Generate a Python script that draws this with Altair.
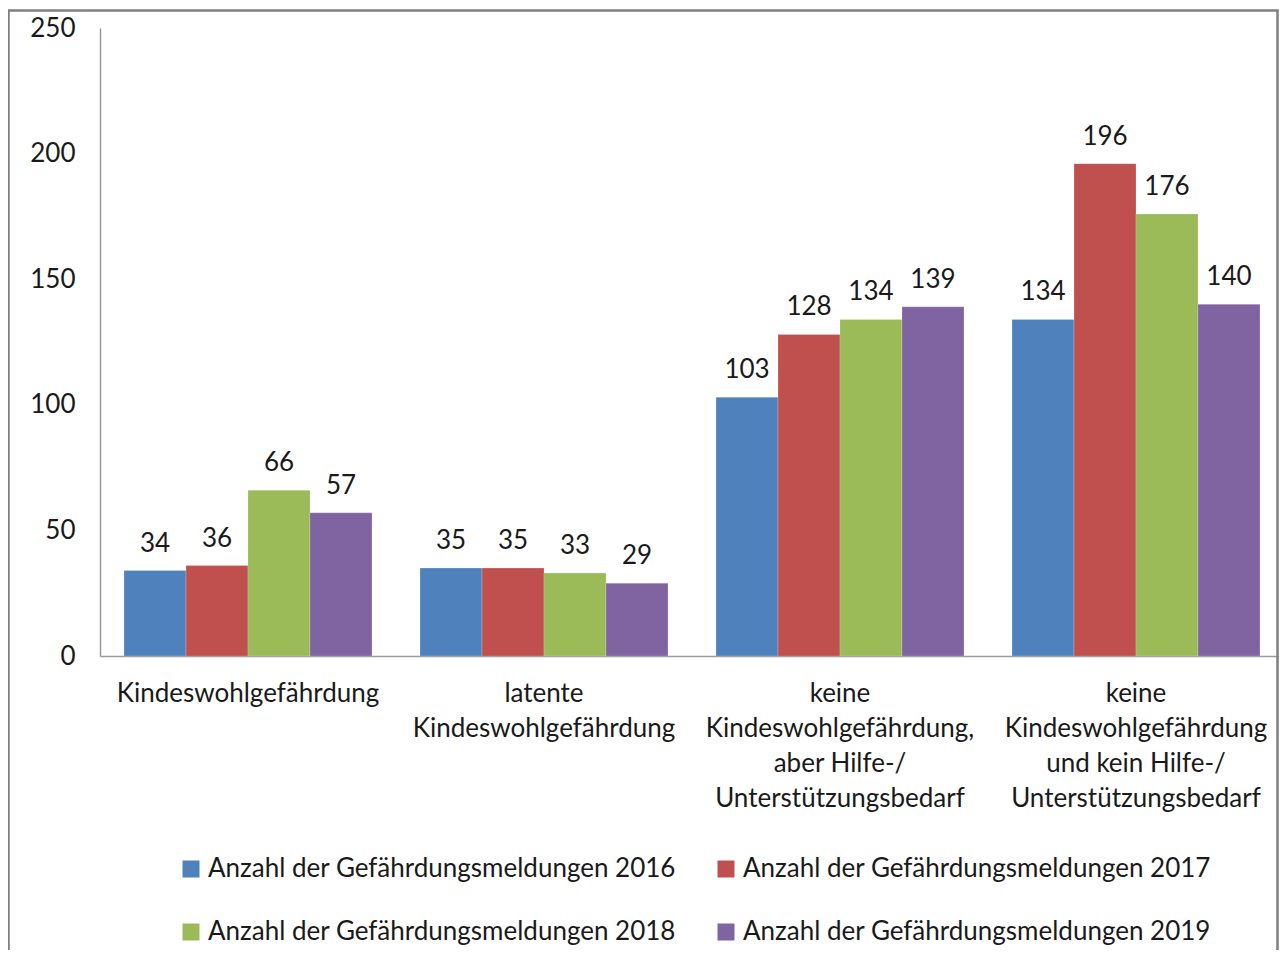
import altair as alt
import pandas as pd

categories = [
    "Kindeswohlgefährdung",
    "latente\nKindeswohlgefährdung",
    "keine\nKindeswohlgefährdung,\naber Hilfe-/\nUnterstützungsbedarf",
    "keine\nKindeswohlgefährdung\nund kein Hilfe-/\nUnterstützungsbedarf",
]
series = [
    "Anzahl der Gefährdungsmeldungen 2016",
    "Anzahl der Gefährdungsmeldungen 2017",
    "Anzahl der Gefährdungsmeldungen 2018",
    "Anzahl der Gefährdungsmeldungen 2019",
]
values_2016 = [34, 35, 103, 134]
values_2017 = [36, 35, 128, 196]
values_2018 = [66, 33, 134, 176]
values_2019 = [57, 29, 139, 140]
colors = ["#4F81BD", "#C0504D", "#9BBB59", "#8064A2"]
y_ticks = [0, 50, 100, 150, 200, 250]

rows = []
for s, vals in zip(series, [values_2016, values_2017, values_2018, values_2019]):
    for c, v in zip(categories, vals):
        rows.append({"cat": c, "series": s, "value": v})
df = pd.DataFrame(rows)

FONT = "Lato"
FS = 26
TXT = "#1a1a1a"

x_enc = alt.X(
    "cat:N",
    sort=categories,
    title="",
    scale=alt.Scale(paddingInner=0.1622, paddingOuter=0.0811),
    axis=alt.Axis(
        labelAngle=0,
        labelExpr="split(datum.label, '\\n')",
        labelLineHeight=35,
        labelFontSize=FS,
        labelColor=TXT,
        labelLimit=0,
        labelPadding=24.5,
        labelBaseline="top",
        ticks=False,
        domainColor="#9a9a9a",
        domainWidth=1.5,
        grid=False,
    ),
)
xo_enc = alt.XOffset("series:N", sort=series, scale=alt.Scale(paddingInner=0, paddingOuter=0))
y_enc = alt.Y(
    "value:Q",
    title="",
    scale=alt.Scale(domain=[0, 250], nice=False),
    axis=alt.Axis(
        values=y_ticks,
        labelFontSize=FS,
        labelColor=TXT,
        labelPadding=25,
        ticks=False,
        grid=False,
        domainColor="#9a9a9a",
        domainWidth=1.5,
    ),
)

bars = alt.Chart(df).mark_bar(stroke="white", strokeWidth=0.5, strokeOpacity=0.4).encode(
    x=x_enc,
    xOffset=xo_enc,
    y=y_enc,
    color=alt.Color(
        "series:N",
        sort=series,
        scale=alt.Scale(domain=series, range=colors),
        legend=alt.Legend(
            title="",
            orient="none",
            legendX=78,
            legendY=828,
            direction="horizontal",
            columns=2,
            columnPadding=37,
            rowPadding=37,
            symbolType="square",
            symbolSize=289,
            symbolStrokeWidth=0,
            symbolOffset=0,
            labelOffset=4,
            labelFontSize=FS,
            labelColor=TXT,
            labelLimit=0,
            padding=0,
        ),
    ),
)

labels = alt.Chart(df).mark_text(
    baseline="alphabetic", dy=-19, fontSize=FS, color=TXT, font=FONT
).encode(
    x=alt.X("cat:N", sort=categories),
    xOffset=alt.XOffset("series:N", sort=series),
    y=alt.Y("value:Q"),
    text=alt.Text("value:Q"),
)

frame = alt.Chart(pd.DataFrame({"a": [0]})).mark_rect(
    fillOpacity=0, stroke="#7f7f7f", strokeWidth=2.5
).encode(
    x=alt.value(-91.5),
    x2=alt.value(1177.5),
    y=alt.value(-17.5),
    y2=alt.value(1000),
)

chart = (
    alt.layer(bars, labels, frame)
    .properties(
        width=1184,
        height=628,
        autosize=alt.AutoSizeParams(type="none"),
        padding={"left": 92, "top": 20, "right": -5, "bottom": 294},
        background="white",
    )
    .configure(font=FONT)
    .configure_view(strokeWidth=0)
)

chart.save("out.html", embed_options={"renderer": "svg", "actions": False})
